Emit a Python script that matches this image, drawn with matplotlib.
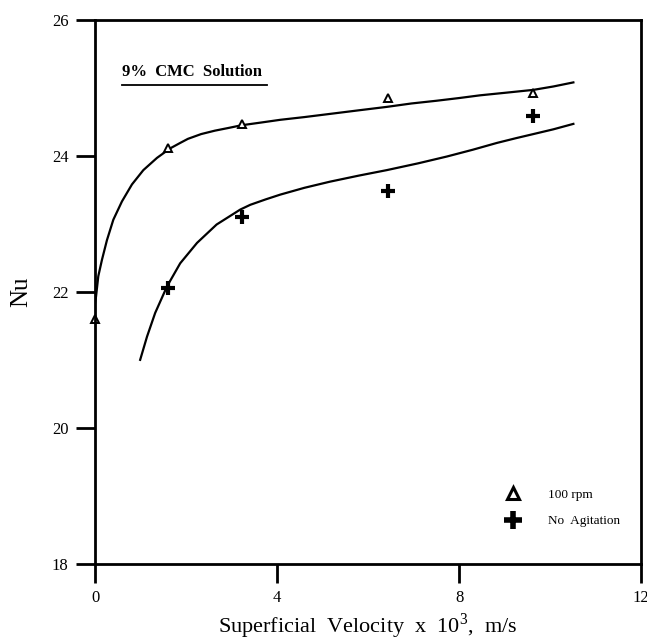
import matplotlib
matplotlib.use("Agg")
import matplotlib.pyplot as plt
from matplotlib.lines import Line2D

plt.rcParams['font.family'] = 'Liberation Serif'
plt.rcParams['mathtext.fontset'] = 'custom'
plt.rcParams['mathtext.rm'] = 'Liberation Serif'

# measured points
x_rpm = [0, 1.6, 3.23, 6.43, 9.63]
nu_rpm = [21.6, 24.12, 24.47, 24.85, 24.93]
x_noag = [1.6, 3.23, 6.43, 9.63]
nu_noag = [22.06, 23.10, 23.48, 24.58]

# fitted curves
fit_rpm_x = [0, 0.02, 0.07, 0.15, 0.26, 0.40, 0.59, 0.81, 1.06, 1.36, 1.65, 1.87,
             2.04, 2.33, 2.63, 2.93, 3.22, 3.65, 4.07, 4.6, 5.2, 5.8, 6.41,
             6.95, 7.5, 8.0, 8.46, 9.05, 9.63, 10.07, 10.51]
fit_rpm_y = [21.84, 21.93, 22.23, 22.47, 22.76, 23.06, 23.33, 23.58, 23.79, 23.97, 24.11, 24.19,
             24.25, 24.32, 24.37, 24.41, 24.45, 24.49, 24.53, 24.57, 24.62, 24.67, 24.72,
             24.77, 24.81, 24.85, 24.89, 24.93, 24.97, 25.02, 25.08]
fit_noag_x = [0.99, 1.14, 1.32, 1.58, 1.87, 2.24, 2.67, 3.19, 3.41, 3.75, 4.07, 4.6,
              5.16, 5.8, 6.41, 7.1, 7.73, 8.3, 8.83, 9.25, 9.63, 10.07, 10.51]
fit_noag_y = [21.0, 21.34, 21.69, 22.08, 22.42, 22.72, 22.99, 23.21, 23.28, 23.36, 23.43, 23.53,
              23.62, 23.71, 23.79, 23.89, 23.99, 24.09, 24.19, 24.26, 24.32, 24.39, 24.47]

fig = plt.figure(figsize=(6.47, 6.4), dpi=100)
ax = fig.add_axes([0.147, 0.119, 0.844, 0.85])

ax.plot(fit_rpm_x, fit_rpm_y, color='black', lw=1.6, solid_joinstyle='round')
ax.plot(fit_noag_x, fit_noag_y, color='black', lw=1.6, solid_joinstyle='round')
ax.plot(x_rpm, nu_rpm, ls='none', marker='^', ms=6, mfc='white', mec='black', mew=1.4, clip_on=False)
ax.plot(x_noag, nu_noag, ls='none', marker='+', ms=10, mec='black', mew=3)

ax.set_xlim(0, 12)
ax.set_ylim(18, 26)
ax.set_xticks([0, 4, 8, 12])
ax.set_yticks([18, 20, 22, 24, 26])
ax.tick_params(direction='out', length=14, width=2, labelsize=12, pad=5)
for s in ax.spines.values():
    s.set_linewidth(2)

ax.set_xlabel(r'Superficial  Velocity  x  10$^3$,  m/s', fontsize=16, labelpad=4)
ax.set_ylabel('Nu', fontsize=18, labelpad=14)

ax.text(0.05, 0.905, '9%  CMC  Solution', transform=ax.transAxes, fontsize=12,
        fontweight='bold', ha='left', va='center')
ax.plot([0.05, 0.315], [0.88, 0.88], transform=ax.transAxes, color='black', lw=1.3)

handles = [Line2D([], [], ls='none', marker='^', ms=9, mfc='white', mec='black', mew=2.2),
           Line2D([], [], ls='none', marker='+', ms=13, mec='black', mew=4)]
ax.legend(handles, ['100 rpm', 'No  Agitation'], loc='lower left',
          bbox_to_anchor=(0.72, 0.045), frameon=False, fontsize=9.5,
          handletextpad=1.6, labelspacing=1.1)

fig.savefig('out.png', dpi=100)
